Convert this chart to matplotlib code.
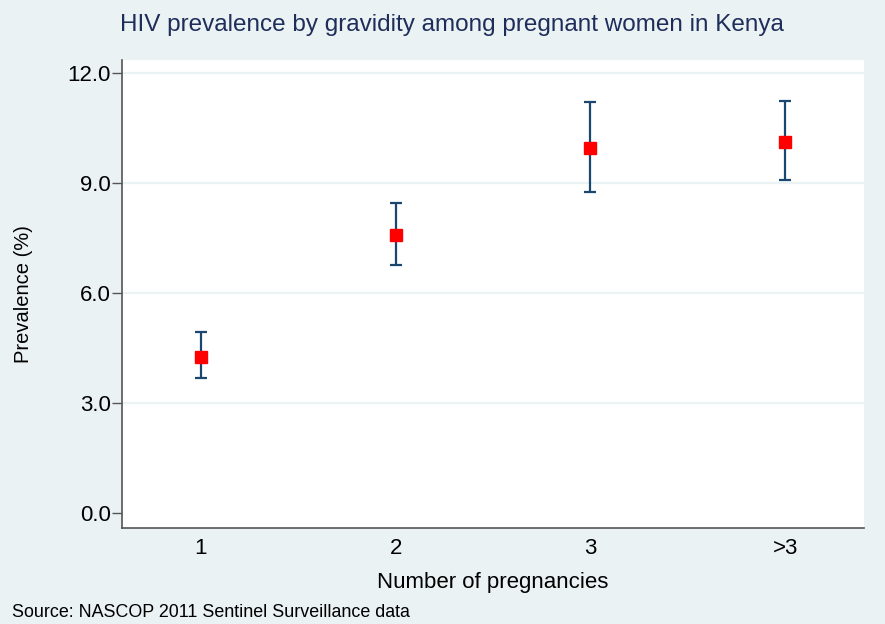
import numpy as np
import matplotlib.pyplot as plt

plt.rcParams['font.family'] = ['Liberation Sans', 'DejaVu Sans']

# gravidity groups and HIV prevalence (%) with 95% CI
groups = ['1', '2', '3', '>3']
prevalence = [4.26, 7.57, 9.95, 10.12]
ci_low = [3.67, 6.76, 8.76, 9.08]
ci_high = [4.93, 8.45, 11.21, 11.24]

BG = '#eaf2f3'
NAVY = '#1a476f'

fig = plt.figure(figsize=(8.85, 6.24), dpi=100, facecolor=BG)
ax = fig.add_axes([0.1379, 0.1538, 0.8384, 0.75])
ax.set_facecolor('white')

x = np.arange(1, len(groups) + 1)
prev = np.array(prevalence)
yerr = np.array([prev - np.array(ci_low), np.array(ci_high) - prev])

ax.errorbar(x, prev, yerr=yerr, fmt='none', ecolor=NAVY, elinewidth=1.6,
            capsize=4.5, capthick=1.6, zorder=2)
ax.plot(x, prev, 's', color='#ff0000', markersize=8.6, zorder=3)

for gy in [3, 6, 9, 12]:
    ax.axhline(gy, color=BG, lw=1.6, zorder=1)

ax.set_xlim(0.595, 4.405)
ax.set_ylim(-0.41, 12.35)
ax.set_yticks([0, 3, 6, 9, 12])
ax.set_yticklabels(['%.1f' % v for v in [0, 3, 6, 9, 12]])
ax.set_xticks(x)
ax.set_xticklabels(groups)

for s in ['top', 'right']:
    ax.spines[s].set_visible(False)
for s in ['left', 'bottom']:
    ax.spines[s].set_color('#555555')
    ax.spines[s].set_linewidth(1.2)

ax.tick_params(axis='y', length=7, width=1, color='#555555', labelsize=16, pad=1)
ax.tick_params(axis='x', length=0, labelsize=16, pad=7)

ax.set_ylabel('Prevalence (%)', fontsize=14.5)
ax.yaxis.set_label_coords(-0.12, 0.5)
ax.set_xlabel('Number of pregnancies', fontsize=16)
ax.xaxis.set_label_coords(0.5, -0.094)

fig.text(0.511, 0.96, 'HIV prevalence by gravidity among pregnant women in Kenya',
         ha='center', va='center', fontsize=17.5, color='#1e2d5a')
fig.text(0.013, 0.019, 'Source: NASCOP 2011 Sentinel Surveillance data',
         ha='left', va='center', fontsize=12.9)

fig.savefig('out.png', dpi=100, facecolor=BG)
